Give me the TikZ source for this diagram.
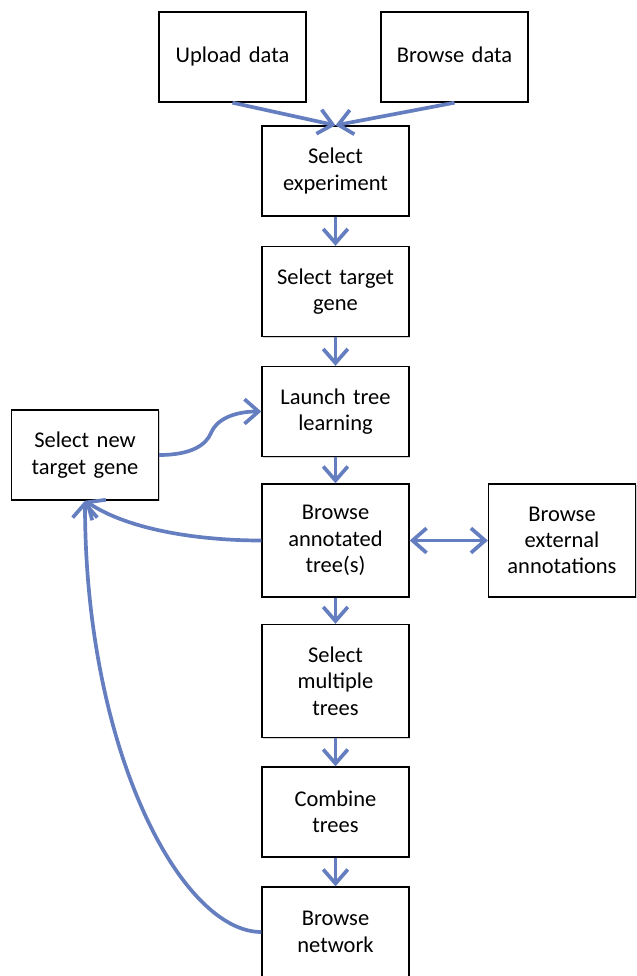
\documentclass[tikz,border=0pt]{standalone}
\usepackage{fontspec}
\setmainfont{Carlito}
\usepackage{tikz}
\usetikzlibrary{
    arrows.meta,
    shadows,
    calc
}
\definecolor{flowblue}{RGB}{100,126,192}

\begin{document}
\begin{tikzpicture}[x=0.02cm, y=-0.02cm,
    stepbox/.style={draw, fill=white, line width=0.8pt, align=center,
        text width=2.7cm, minimum width=2.94cm, minimum height=1.8cm,
        font=\fontsize{12.8}{15}\selectfont,
        drop shadow={shadow xshift=0.7pt, shadow yshift=-0.7pt, opacity=0.35}},
    tallbox/.style={stepbox, minimum height=2.26cm},
    flow/.style={draw=flowblue, line width=2.1pt,
        -{Straight Barb[length=8pt, width=14pt, line width=2.1pt]}},
    bothflow/.style={flow,
        {Straight Barb[length=8pt, width=14pt, line width=2.1pt]}-{Straight Barb[length=8pt, width=14pt, line width=2.1pt]}}
]
    \useasboundingbox (0, 0) rectangle (636, 976);

    % boxes
    \node[stepbox] (upload) at (232.5, 57) {\strut Upload data};
    \node[stepbox] (browse) at (454.5, 57) {\strut Browse data};
    \node[stepbox] (selexp) at (335.5, 171) {Select\\experiment};
    \node[stepbox] (target) at (335.5, 291.5) {Select target\\gene};
    \node[stepbox] (launch) at (335.5, 411.5) {Launch tree\\learning};
    \node[stepbox] (newgene) at (85, 455) {Select new\\target gene};
    \node[tallbox] (annot) at (335.5, 540.5) {Browse\\annotated\\tree(s)};
    \node[tallbox] (external) at (562, 540.5) {Browse\\external\\annotations};
    \node[tallbox] (multiple) at (335.5, 681) {Select\\multiple\\trees};
    \node[stepbox] (combine) at (335.5, 812) {Combine\\trees};
    \node[stepbox] (network) at (335.5, 932) {Browse\\network};

    % arrows down the main column
    \draw[flow] (upload.south) -- (selexp.north);
    \draw[flow] (browse.south) -- (selexp.north);
    \draw[flow] (selexp) -- (target);
    \draw[flow] (target) -- (launch);
    \draw[flow] (launch) -- (annot);
    \draw[flow] (annot) -- (multiple);
    \draw[flow] (multiple) -- (combine);
    \draw[flow] (combine) -- (network);
    \draw[bothflow] (annot) -- (external);

    % loops back to a new gene
    \coordinate (kink) at (211, 433);
    \draw[flow] (newgene.east) .. controls +(32, 0) and +(-5, 12) .. (kink)
        .. controls +(5, -13) and +(-28, 0) .. (launch.west);
    \draw[flow] (annot.west) .. controls +(-60, 0) and +(45, 30) .. (newgene.south);
    \draw[flow] (network.west) .. controls +(-80, 0) and +(0, 250) .. (newgene.south);
\end{tikzpicture}
\end{document}
